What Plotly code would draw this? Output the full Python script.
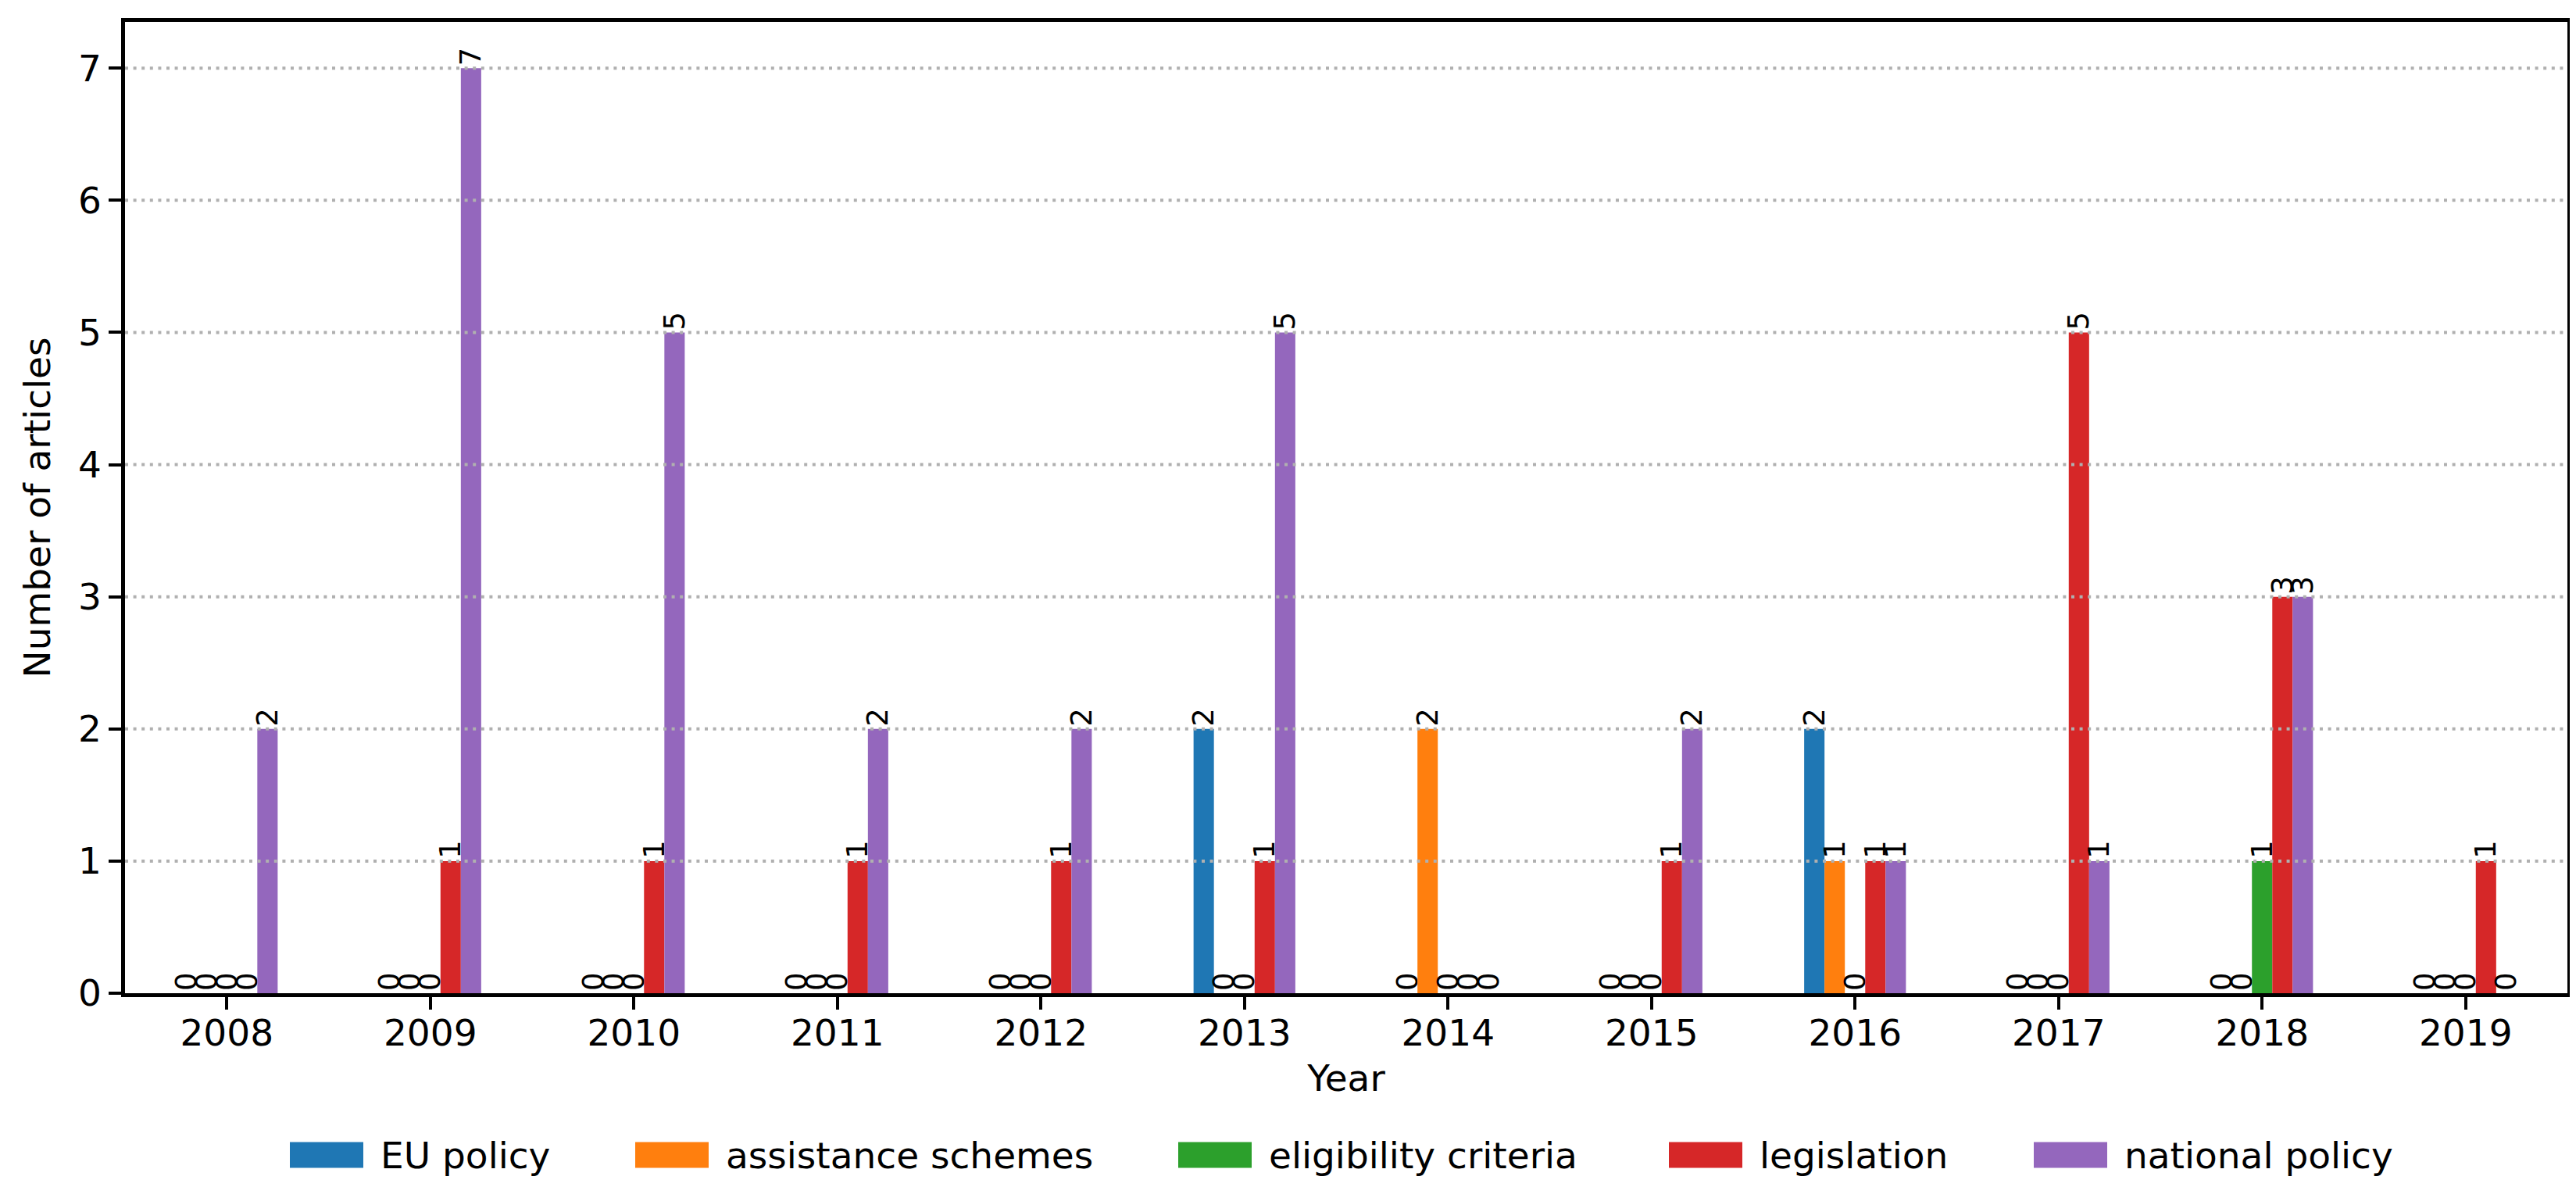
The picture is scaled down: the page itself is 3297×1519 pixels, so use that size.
import plotly.graph_objects as go

years = ["2008", "2009", "2010", "2011", "2012", "2013", "2014", "2015", "2016", "2017", "2018", "2019"]
series_names = ["EU policy", "assistance schemes", "eligibility criteria", "legislation", "national policy"]
eu_policy = [0, 0, 0, 0, 0, 2, 0, 0, 2, 0, 0, 0]
assistance_schemes = [0, 0, 0, 0, 0, 0, 2, 0, 1, 0, 0, 0]
eligibility_criteria = [0, 0, 0, 0, 0, 0, 0, 0, 0, 0, 1, 0]
legislation = [0, 1, 1, 1, 1, 1, 0, 1, 1, 5, 3, 1]
national_policy = [2, 7, 5, 2, 2, 5, 0, 2, 1, 1, 3, 0]
y_ticks = [0, 1, 2, 3, 4, 5, 6, 7]

colors = ["#1f77b4", "#ff7f0e", "#2ca02c", "#d62728", "#9467bd"]
values = [eu_policy, assistance_schemes, eligibility_criteria, legislation, national_policy]

W, H = 3297, 1519
ML, MR, MT, MB = 152, 19, 20, 256
PW = W - ML - MR
PH = H - MT - MB
FONT = "DejaVu Sans"
FS = 47

fig = go.Figure()
for name, vals, col in zip(series_names, values, colors):
    fig.add_trace(go.Bar(
        x=years, y=vals, name=name, marker_color=col, marker_line_width=0,
        text=[str(v) for v in vals], textposition="outside", textangle=-90,
        textfont=dict(family=FONT, size=37, color="black"),
        constraintext="none", cliponaxis=False, showlegend=False,
    ))

# dotted horizontal grid lines drawn above the bars (as in the reference)
for t in y_ticks[1:]:
    fig.add_shape(type="line", xref="paper", yref="y", x0=0, x1=1, y0=t, y1=t,
                  line=dict(color="#b0b0b0", width=4, dash="4px,6.6px"), layer="above")

# custom legend (matplotlib-like wide swatches)
leg_px = [363, 805, 1500, 2128, 2595]
sw_w, sw_h, pad = 94, 33, 20
leg_cy = 1470
def px_to_paper_x(px):
    return (px - ML) / PW
def px_to_paper_y(py):
    return (H - MB - py) / PH
for name, col, lx in zip(series_names, colors, leg_px):
    fig.add_shape(type="rect", xref="paper", yref="paper",
                  x0=px_to_paper_x(lx), x1=px_to_paper_x(lx + sw_w),
                  y0=px_to_paper_y(leg_cy + sw_h / 2), y1=px_to_paper_y(leg_cy - sw_h / 2),
                  fillcolor=col, line=dict(width=0), layer="above")
    fig.add_annotation(text=name, xref="paper", yref="paper",
                       x=px_to_paper_x(lx + sw_w + pad), y=px_to_paper_y(leg_cy),
                       xanchor="left", yanchor="middle", showarrow=False,
                       font=dict(family=FONT, size=FS, color="black"))

axis_common = dict(
    showline=True, linecolor="black", linewidth=4.5, mirror=True,
    ticks="outside", ticklen=16, tickwidth=4, tickcolor="black",
    tickfont=dict(family=FONT, size=FS, color="black"),
    zeroline=False,
)
fig.update_layout(
    width=W, height=H,
    margin=dict(l=ML, r=MR, t=MT, b=MB),
    paper_bgcolor="white", plot_bgcolor="white",
    barmode="group", bargap=0.5, bargroupgap=0,
    font=dict(family=FONT, size=FS, color="black"),
    xaxis=dict(type="category", range=[-0.5, 11.5], showgrid=False,
               ticklabelstandoff=-10,
               title=dict(text="Year", font=dict(family=FONT, size=FS), standoff=16),
               **axis_common),
    yaxis=dict(range=[0, 7.35], tickvals=y_ticks, showgrid=False,
               title=dict(text="Number of articles", font=dict(family=FONT, size=FS), standoff=22),
               **axis_common),
    showlegend=False,
)

fig.write_html("out.html")
